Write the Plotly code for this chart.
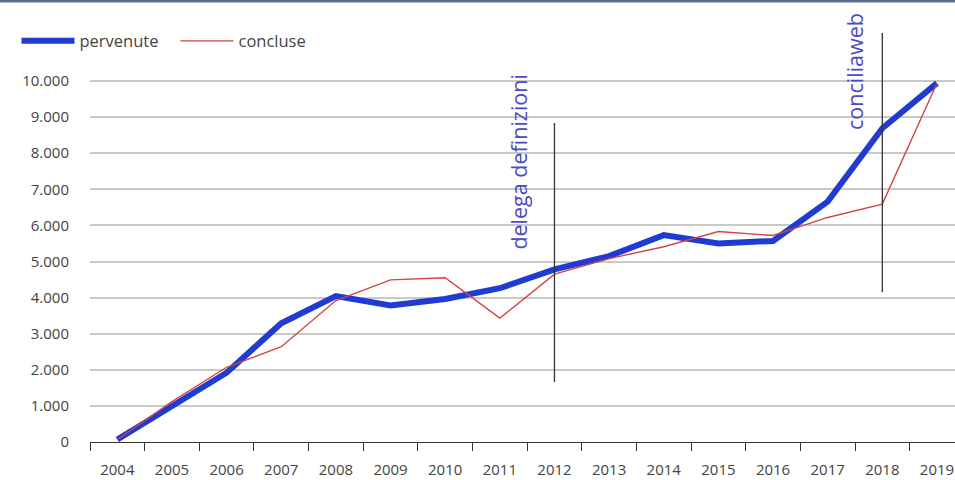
import plotly.graph_objects as go

# Annual counts of requests received and concluded
anni = [str(a) for a in range(2004, 2020)]
pervenute = [70, 980, 1920, 3290, 4040, 3780, 3960, 4260, 4780, 5150, 5730, 5500, 5570, 6660, 8690, 9940]
concluse = [70, 1120, 2070, 2640, 3920, 4490, 4550, 3430, 4650, 5080, 5410, 5830, 5720, 6220, 6590, 9940]

# Event markers: category, vertical segment extent, label
eventi = [
    {"anno": "2012", "da": 1660, "a": 8840, "testo": "delega definizioni", "ytesto": 7780, "dx": -36},
    {"anno": "2018", "da": 4150, "a": 11330, "testo": "conciliaweb", "ytesto": 10260, "dx": -28},
]

FONT = "Open Sans"
GRIGIO = "#444444"

fig = go.Figure()
fig.add_trace(go.Scatter(
    x=anni, y=pervenute, name="pervenute", mode="lines",
    line=dict(color="#1f3bd2", width=6), cliponaxis=False,
))
fig.add_trace(go.Scatter(
    x=anni, y=concluse, name="concluse", mode="lines",
    line=dict(color="#d04545", width=1.4), cliponaxis=False,
))

for ev in eventi:
    # category axis positions are given by index, since the labels look numeric
    pos = anni.index(ev["anno"])
    fig.add_shape(
        type="line", xref="x", yref="y",
        x0=pos, x1=pos, y0=ev["da"], y1=ev["a"],
        line=dict(color="#333333", width=1.3),
    )
    fig.add_annotation(
        x=pos, y=ev["ytesto"], xref="x", yref="y",
        text=ev["testo"], textangle=-90, showarrow=False,
        xshift=ev["dx"], font=dict(family=FONT, size=21.5, color="#4b4bc4"),
    )

# thin frame line along the top edge
fig.add_shape(
    type="line", xref="paper", yref="paper",
    x0=-0.2, x1=1.2, y0=1.045, y1=1.045,
    line=dict(color="#5b6e8c", width=3),
)

fig.update_layout(
    width=955, height=480,
    margin=dict(l=90, r=0, t=20, b=38),
    paper_bgcolor="white", plot_bgcolor="white",
    separators=",.",
    font=dict(family=FONT, size=15, color=GRIGIO),
    showlegend=True,
    legend=dict(
        orientation="h", x=-0.085, y=0.95, xanchor="left", yanchor="middle",
        font=dict(family=FONT, size=16.5, color=GRIGIO),
        itemwidth=53, entrywidth=91, entrywidthmode="pixels",
        bgcolor="rgba(0,0,0,0)", traceorder="normal",
    ),
    xaxis=dict(
        type="category", range=[-0.5, 15.33],
        tickson="boundaries", ticks="outside", ticklen=8, tickcolor="#333333",
        showline=True, linecolor="#333333", linewidth=1.3,
        showgrid=False, ticklabelstandoff=14,
        tickfont=dict(size=15, color=GRIGIO),
    ),
    yaxis=dict(
        range=[0, 11690], tickvals=list(range(0, 10001, 1000)),
        tickformat=",d", showgrid=True, gridcolor="#c9c9c9", gridwidth=1.5,
        zeroline=False, showline=False, ticks="",
        ticklabelstandoff=20, tickfont=dict(size=15, color=GRIGIO),
    ),
)

fig.write_html("out.html")
